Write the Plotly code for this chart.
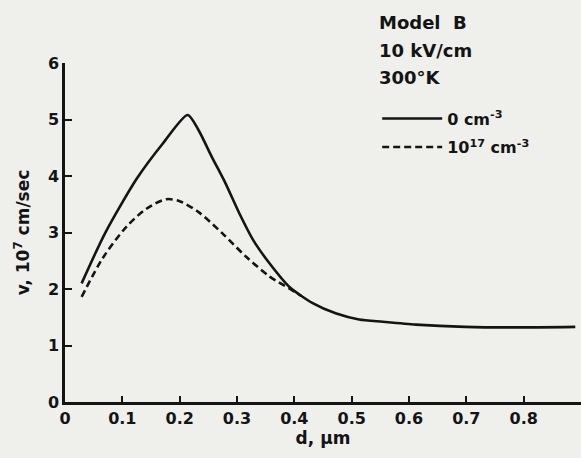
import plotly.graph_objects as go

# Data
d_solid = [0.029, 0.070, 0.125, 0.171, 0.214, 0.233, 0.256, 0.280, 0.304, 0.328,
           0.357, 0.391, 0.432, 0.472, 0.513, 0.554, 0.612, 0.698, 0.786, 0.890]
v_solid = [2.10, 2.99, 3.95, 4.58, 5.08, 4.81, 4.34, 3.87, 3.34, 2.87,
           2.45, 2.04, 1.75, 1.57, 1.46, 1.42, 1.37, 1.33, 1.32, 1.33]

d_dash = [0.029, 0.066, 0.107, 0.142, 0.177, 0.201, 0.233, 0.275, 0.316, 0.357, 0.391, 0.412]
v_dash = [1.86, 2.55, 3.10, 3.42, 3.59, 3.55, 3.36, 2.98, 2.57, 2.22, 2.01, 1.88]

x_ticks = [0, 0.1, 0.2, 0.3, 0.4, 0.5, 0.6, 0.7, 0.8]
x_tick_labels = ["0", "0.1", "0.2", "0.3", "0.4", "0.5", "0.6", "0.7", "0.8"]
y_ticks = [0, 1, 2, 3, 4, 5, 6]
info_lines = ["Model  B", "10 kV/cm", "300°K"]

FONT = "DejaVu Sans"
INK = "#141414"
BG = "#efefec"

fig = go.Figure()
fig.add_trace(go.Scatter(x=d_solid, y=v_solid, mode="lines",
                         name="0 cm<sup>-3</sup>", legend="legend", showlegend=True,
                         line=dict(color=INK, width=2.6, shape="spline", smoothing=0.7)))
fig.add_trace(go.Scatter(x=d_dash, y=v_dash, mode="lines",
                         name="10<sup>17</sup> cm<sup>-3</sup>", legend="legend2",
                         showlegend=True,
                         line=dict(color=INK, width=2.6, dash="7px,4px",
                                   shape="spline", smoothing=0.8)))

leg_common = dict(xanchor="left", yanchor="middle", bgcolor="rgba(0,0,0,0)",
                  font=dict(size=16, weight="bold"), itemwidth=60)
fig.update_layout(
    width=581, height=458,
    margin=dict(l=65, r=0, t=63, b=56),
    paper_bgcolor=BG, plot_bgcolor=BG,
    showlegend=True,
    font=dict(family=FONT, color=INK, size=15, weight="bold"),
    legend=dict(x=0.605, y=0.836, **leg_common),
    legend2=dict(x=0.605, y=0.752, **leg_common),
    annotations=[
        dict(text=t, xref="paper", yref="paper",
             x=0.605, y=(402 - yy) / 339, xanchor="left", yanchor="middle",
             showarrow=False, align="left", font=dict(size=18, weight="bold"))
        for t, yy in zip(info_lines, [23, 50, 77])
    ],
)
fig.update_xaxes(range=[0, 0.9], tickvals=x_ticks, ticktext=x_tick_labels,
                 showgrid=False, zeroline=False, showline=True, linecolor=INK,
                 linewidth=2.5, ticks="inside", ticklen=6, tickwidth=2,
                 tickcolor=INK, tickfont=dict(size=16, weight="bold"),
                 title=dict(text="d, μm", font=dict(size=17, weight="bold"), standoff=6))
fig.update_yaxes(range=[0, 6], tickvals=y_ticks,
                 showgrid=False, zeroline=False, showline=True, linecolor=INK,
                 linewidth=2.5, ticks="inside", ticklen=7, tickwidth=2,
                 tickcolor=INK, tickfont=dict(size=16, weight="bold"),
                 title=dict(text="v, 10<sup>7</sup> cm/sec",
                            font=dict(size=17, weight="bold"), standoff=14))

fig.write_html("out.html")
